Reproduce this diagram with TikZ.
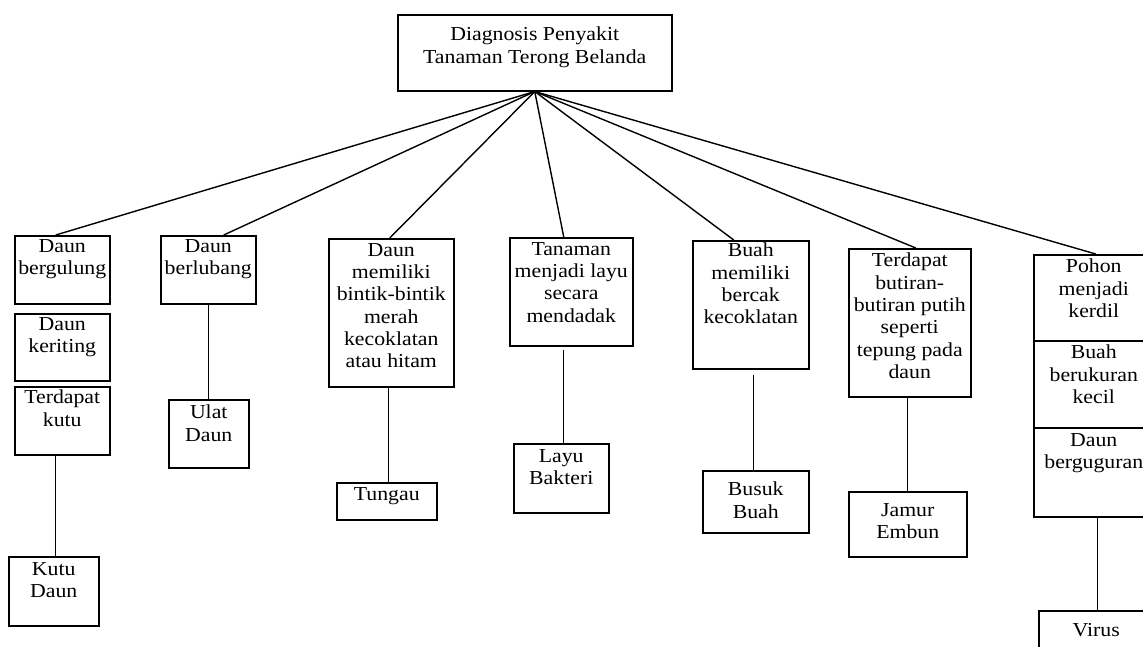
\documentclass[tikz,border=0pt]{standalone}
\usepackage{fontspec}
\setmainfont{Liberation Serif}[FakeStretch=1.1]
\tikzset{
  bx/.style={draw, line width=1.5pt, inner sep=0pt, anchor=north west},
  tx/.style={anchor=north, inner sep=0pt, align=center, font=\fontsize{19.8}{22.3}\selectfont},
  ln/.style={line width=1.4pt},
}
\newcommand\mkbox[7]{%
  \node[bx, minimum width=#4pt, minimum height=#5pt] (#1) at (#2,#3) {};
  \node[tx] (#1t) at ([yshift=-#6pt]#1.north) {#7};
}
\begin{document}
\begin{tikzpicture}[x=1pt,y=-1pt]
\useasboundingbox (0,0) rectangle (1143,646);
\clip (0,0) rectangle (1143,646);
\fill[white] (0,0) rectangle (1143,646);
\mkbox{root}{397}{14}{274}{76}{13}{Diagnosis Penyakit\\Tanaman\ Terong Belanda}
\mkbox{a1}{14}{235}{95}{68}{4}{Daun\\bergulung}
\mkbox{a2}{14}{313}{95}{67}{4}{Daun\\keriting}
\mkbox{a3}{14}{386}{95}{68}{4}{Terdapat\\kutu}
\mkbox{a4}{8}{556}{90}{69}{6}{Kutu\\Daun}
\mkbox{b1}{160}{235}{95}{68}{4}{Daun\\berlubang}
\mkbox{b2}{168}{399}{80}{68}{6}{Ulat\\Daun}
\mkbox{c1}{328}{238}{125}{148}{5}{Daun\\memiliki\\bintik-bintik\\merah\\kecoklatan\\atau hitam}
\mkbox{c2}{336}{482}{100}{37}{5}{Tungau}
\mkbox{d1}{509}{237}{123}{108}{5}{Tanaman\\menjadi layu\\secara\\mendadak}
\mkbox{d2}{513}{443}{95}{69}{6}{Layu\\Bakteri}
\mkbox{e1}{692}{240}{116}{128}{3}{Buah\\memiliki\\bercak\\kecoklatan}
\mkbox{e2}{702}{470}{106}{62}{12}{Busuk\\Buah}
\mkbox{f1}{848}{248}{122}{148}{5}{Terdapat\\butiran-\\butiran putih\\seperti\\tepung pada\\daun}
\mkbox{f2}{848}{491}{118}{65}{12}{Jamur\\Embun}
\mkbox{g1}{1033}{254}{120}{86}{5}{Pohon\\menjadi\\kerdil}
\mkbox{g2}{1033}{340}{120}{87}{5}{Buah\\berukuran\\kecil}
\mkbox{g3}{1033}{427}{120}{89}{6}{Daun\\berguguran}
\mkbox{g4}{1038}{610}{115}{50}{13}{Virus}
% connectors from root
\draw[ln] (root.south) -- ([xshift=-6.5pt]a1.north);
\draw[ln] (root.south) -- ([xshift=15.5pt]b1.north);
\draw[ln] (root.south) -- ([xshift=-1.5pt]c1.north);
\draw[ln] (root.south) -- ([xshift=-7.5pt]d1.north);
\draw[ln] (root.south) -- ([xshift=-17pt]e1.north);
\draw[ln] (root.south) -- ([xshift=6pt]f1.north);
\draw[ln] (root.south) -- ([xshift=2pt]g1.north);
% vertical connectors
\draw[ln] ([xshift=-6.5pt]a3.south) -- ([xshift=-6.5pt]a3.south |- a4.north);
\draw[ln] (b1.south) -- (b1.south |- b2.north);
\draw[ln] ([xshift=-2.5pt]c1.south) -- ([xshift=-2.5pt]c1.south |- c2.north);
\draw[ln] ([xshift=-7.5pt,yshift=-3pt]d1.south) -- ([xshift=-7.5pt]d1.south |- d2.north);
\draw[ln] ([xshift=3pt,yshift=-5pt]e1.south) -- ([xshift=3pt]e1.south |- e2.north);
\draw[ln] ([xshift=-2pt]f1.south) -- ([xshift=-2pt]f1.south |- f2.north);
\draw[ln] ([xshift=4pt]g3.south) -- ([xshift=4pt]g3.south |- g4.north);
\end{tikzpicture}
\end{document}
